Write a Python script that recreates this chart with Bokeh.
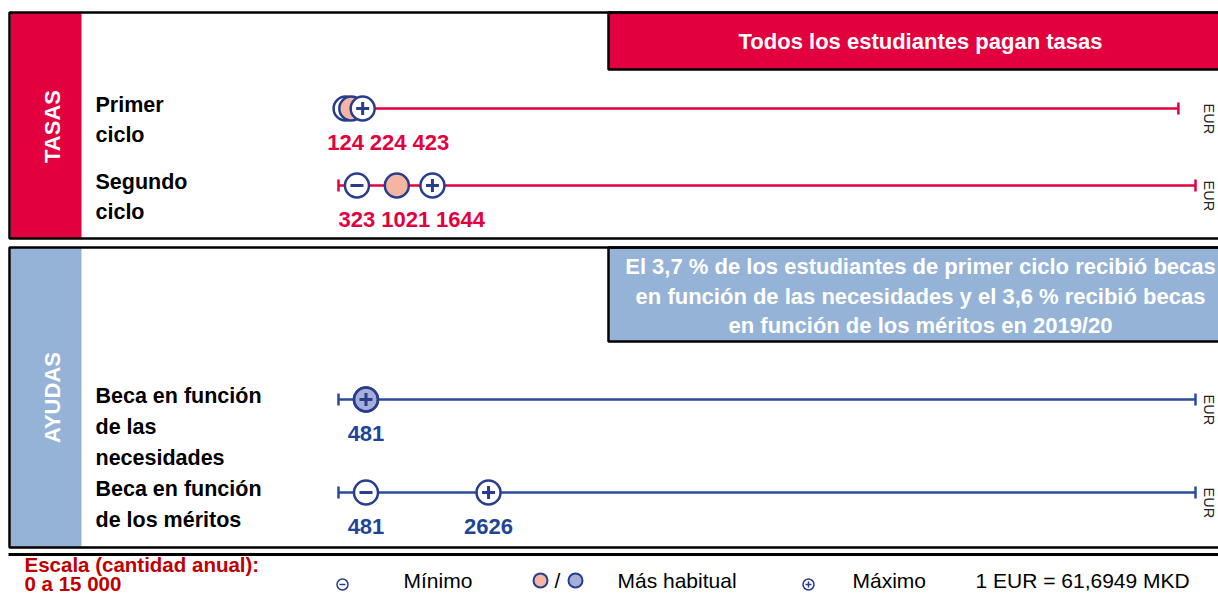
import math
from bokeh.plotting import figure
from bokeh.models import Range1d, ColumnDataSource
from bokeh.core.properties import value
from bokeh.embed import file_html
from bokeh.resources import INLINE

# ---------------- data ----------------
sections = ["TASAS", "AYUDAS"]
section_notes = [
    ["Todos los estudiantes pagan tasas"],
    ["El 3,7 % de los estudiantes de primer ciclo recibió becas",
     "en función de las necesidades y el 3,6 % recibió becas",
     "en función de los méritos en 2019/20"],
]
row_labels = ["Primer\nciclo", "Segundo\nciclo",
              "Beca en función\nde las\nnecesidades", "Beca en función\nde los méritos"]
row_section = ["TASAS", "TASAS", "AYUDAS", "AYUDAS"]
min_values = [124, 323, None, 481]
common_values = [224, 1021, 481, None]
max_values = [423, 1644, 481, 2626]
scale_start = [0, 0, 0, 0]
scale_end = [14700, 15000, 15000, 15000]
unit = "EUR"
legend_labels = ["Mínimo", "Más habitual", "Máximo"]
scale_lines = ["Escala (cantidad anual):", "0 a 15 000"]
exchange_note = "1 EUR = 61,6949 MKD"

# ---------------- layout / style ----------------
W, H = 1218, 597
X0 = 338                 # pixel of 0 EUR
PPE = 857 / 15000        # pixels per EUR
ROW_Y = [108, 185, 399, 492]
SEC_TOP = [12, 247]
SEC_BOTTOM = [238, 547]
NOTE_BOTTOM = [69, 341]
SEC_TEXT_Y = [126, 397]
NOTE_Y = [[41], [266, 296, 325]]
LABEL_LH = {"TASAS": 30, "AYUDAS": 31}

RED = "#e3003f"
BLUE_BAR = "#95b3d7"
NAVY = "#283d8e"
AYUDA_LINE = "#2b4b9c"
AYUDA_TXT = "#1f4597"
SALMON = "#f4b6a3"
LAVENDER = "#a5aed8"
DARKRED = "#c00000"
SEC_FILL = {"TASAS": RED, "AYUDAS": BLUE_BAR}
LINE_COL = {"TASAS": RED, "AYUDAS": AYUDA_LINE}
NUM_COL = {"TASAS": RED, "AYUDAS": AYUDA_TXT}
COMMON_FILL = {"TASAS": SALMON, "AYUDAS": LAVENDER}
FONT = value("Liberation Sans")

p = figure(width=W, height=H, title=None,
           x_range=Range1d(-X0 / PPE, (W - X0) / PPE),
           y_range=Range1d(H, 0),
           output_backend="svg", toolbar_location=None, min_border=0,
           x_axis_location=None, y_axis_location=None)
p.extra_x_ranges = {"px": Range1d(0, W)}
p.grid.visible = False
p.outline_line_color = None
p.background_fill_color = "white"
p.border_fill_color = "white"

# ---------------- panels ----------------
p.quad(left=[10, 10], right=[81, 81], top=SEC_TOP, bottom=SEC_BOTTOM,
       fill_color=[SEC_FILL[s] for s in sections], line_color=None, x_range_name="px")
p.quad(left=[608, 608], right=[1260, 1260], top=SEC_TOP, bottom=NOTE_BOTTOM,
       fill_color=[SEC_FILL[s] for s in sections], line_color="black", line_width=2.5,
       x_range_name="px")
p.quad(left=[9, 9], right=[1260, 1260], top=SEC_TOP, bottom=SEC_BOTTOM,
       fill_color=None, line_color="black", line_width=2.5, x_range_name="px")
p.segment(x0=[8], x1=[1260], y0=[554], y1=[554], line_color="black", line_width=3,
          x_range_name="px")

p.text(x=[52, 52], y=SEC_TEXT_Y, text=sections, angle=math.pi / 2,
       text_align="center", text_baseline="middle", text_color="white",
       text_font=FONT, text_font_style="bold", text_font_size=value("22px"),
       x_range_name="px")

nx, ny, nt = [], [], []
for lines, ys in zip(section_notes, NOTE_Y):
    for ln, y in zip(lines, ys):
        nx.append(920); ny.append(y); nt.append(ln)
p.text(x=nx, y=ny, text=nt, text_align="center", text_baseline="middle",
       text_color="white", text_font=FONT, text_font_style="bold",
       text_font_size=value("22px"), x_range_name="px")

# ---------------- row labels ----------------
lx, ly, lt = [], [], []
for lbl, y, sec in zip(row_labels, ROW_Y, row_section):
    for i, ln in enumerate(lbl.split("\n")):
        lx.append(95); ly.append(y - 4 + i * LABEL_LH[sec]); lt.append(ln)
p.text(x=lx, y=ly, text=lt, text_align="left", text_baseline="middle",
       text_color="black", text_font=FONT, text_font_style="bold",
       text_font_size=value("21.5px"), x_range_name="px")

# ---------------- scale lines ----------------
lc = [LINE_COL[s] for s in row_section]
p.segment(x0=scale_start, x1=scale_end, y0=ROW_Y, y1=ROW_Y, line_color=lc, line_width=2.5)
p.segment(x0=scale_start, x1=scale_start, y0=[y - 6 for y in ROW_Y], y1=[y + 6 for y in ROW_Y],
          line_color=lc, line_width=2.5)
p.segment(x0=scale_end, x1=scale_end, y0=[y - 6 for y in ROW_Y], y1=[y + 6 for y in ROW_Y],
          line_color=lc, line_width=2.5)
p.text(x=[1208] * 4, y=[y - 5 for y in ROW_Y], text=[unit] * 4, angle=-math.pi / 2,
       text_align="left", text_baseline="middle", text_color="#222222",
       text_font=FONT, text_font_size=value("14.5px"), x_range_name="px")

# ---------------- markers ----------------
def pts(vals, fills=None, alphas=None):
    d = dict(x=[], y=[], fill=[], alpha=[])
    for i, v in enumerate(vals):
        if v is None:
            continue
        d["x"].append(v); d["y"].append(ROW_Y[i])
        d["fill"].append(fills[i] if fills else "white")
        d["alpha"].append(alphas[i] if alphas else 1.0)
    return ColumnDataSource(d)

CS = 24
min_src = pts(min_values)
p.scatter("x", "y", source=min_src, size=CS, fill_color="fill", fill_alpha="alpha",
          line_color=NAVY, line_width=2.5)
p.scatter("x", "y", source=min_src, marker="dash", size=13, line_color=NAVY, line_width=3)

com_src = pts(common_values, fills=[COMMON_FILL[s] for s in row_section])
p.scatter("x", "y", source=com_src, size=CS, fill_color="fill", fill_alpha="alpha",
          line_color=NAVY, line_width=2.5)

max_alpha = [0.0 if m == c else 1.0 for m, c in zip(max_values, common_values)]
max_src = pts(max_values, alphas=max_alpha)
p.scatter("x", "y", source=max_src, size=CS, fill_color="fill", fill_alpha="alpha",
          line_color=NAVY, line_width=2.5)
p.scatter("x", "y", source=max_src, marker="cross", size=13, line_color=NAVY, line_width=3)

# ---------------- value labels ----------------
DIGIT_W = 12.2
vx, vy, vo, vt, vc = [], [], [], [], []
for i in range(len(row_labels)):
    vals = sorted({v for v in (min_values[i], common_values[i], max_values[i]) if v is not None})
    prev_right = -1e9
    for v in vals:
        s = str(v)
        w = len(s) * DIGIT_W
        c = X0 + v * PPE
        left = max(c - w / 2, prev_right + 6)
        vo.append(left + w / 2 - c)
        prev_right = left + w
        vx.append(v); vy.append(ROW_Y[i] + 34); vt.append(s); vc.append(NUM_COL[row_section[i]])
p.text(x=vx, y=vy, x_offset=vo, text=vt, text_color=vc, text_align="center",
       text_baseline="middle", text_font=FONT, text_font_style="bold",
       text_font_size=value("22px"))

# ---------------- legend ----------------
p.text(x=[24, 24], y=[564, 583], text=scale_lines, text_align="left", text_baseline="middle",
       text_color=DARKRED, text_font=FONT, text_font_style="bold",
       text_font_size=value("20.5px"), x_range_name="px")
p.scatter(x=[342, 808], y=[584, 584], size=11, fill_color="white", line_color=NAVY,
          line_width=1.5, x_range_name="px")
p.scatter(x=[342], y=[584], marker="dash", size=6, line_color=NAVY, line_width=1.5,
          x_range_name="px")
p.scatter(x=[808], y=[584], marker="cross", size=6, line_color=NAVY, line_width=1.5,
          x_range_name="px")
p.scatter(x=[540, 575], y=[580, 580], size=14, fill_color=[SALMON, LAVENDER],
          line_color=NAVY, line_width=2, x_range_name="px")
p.text(x=[557], y=[580], text=["/"], text_align="center", text_baseline="middle",
       text_color="black", text_font=FONT, text_font_size=value("21px"), x_range_name="px")
p.text(x=[403, 617, 852, 975], y=[580] * 4, text=legend_labels + [exchange_note],
       text_align="left", text_baseline="middle", text_color="black",
       text_font=FONT, text_font_size=value("21px"), x_range_name="px")

open("out.html", "w").write(file_html(p, INLINE))
